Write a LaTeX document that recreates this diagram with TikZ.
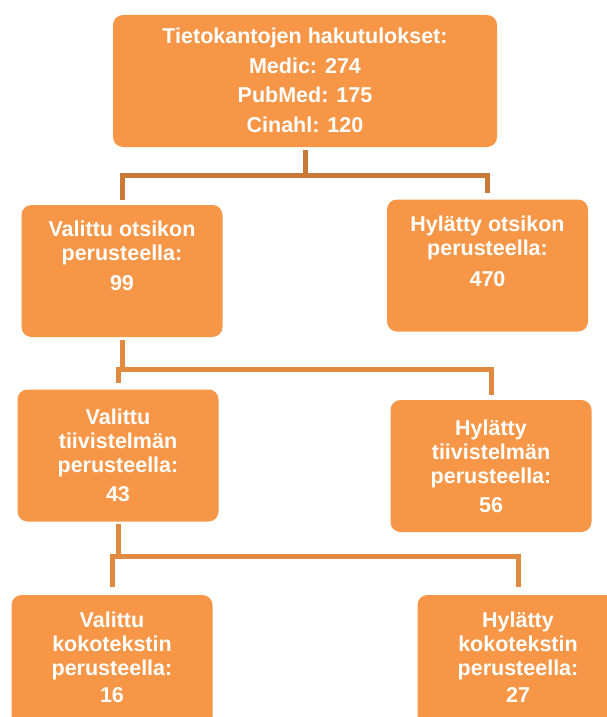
\documentclass[tikz,border=0pt]{standalone}
\usepackage{fontspec}
\setmainfont{Liberation Sans}
\usepackage{xcolor}
\usepackage{tikz}
\usetikzlibrary{positioning}
\definecolor{oranssi}{HTML}{F79646}
\definecolor{viivatumma}{HTML}{C87A38}
\definecolor{viivavalo}{HTML}{E28940}
\tikzset{
  laatikko/.style={fill=oranssi, rounded corners=10pt, inner sep=0pt,
    minimum width=201pt, minimum height=132pt},
  teksti/.style={text=white, align=center, inner sep=0pt,
    font=\bfseries\fontsize{21.5}{24}\selectfont},
  viiva/.style={line width=5pt, draw=viivavalo},
}

\begin{document}
\begin{tikzpicture}[x=1pt, y=-1pt]
        \useasboundingbox (0,0) rectangle (607,717);

        % Laatikot
        \node[laatikko, minimum width=384pt] (haku) at (305,81) {};
        \node[laatikko] (valotsikko) at (122,271) {};
        \node[laatikko] (hylotsikko) at (487.5,265.5) {};
        \node[laatikko] (valtiivis) at (118,455.5) {};
        \node[laatikko] (hyltiivis) at (491,466) {};
        \node[laatikko] (valkoko) at (112,661) {};
        \node[laatikko] (hylkoko) at (518,661) {};

        % Tekstit
        \node[teksti, below=13pt of haku.north] (hakuteksti)
          {Tietokantojen hakutulokset:\\[6pt] Medic: 274\\[5pt] PubMed: 175\\[6pt] Cinahl: 120};
        \node[teksti, below=16pt of valotsikko.north] (valotsikkoteksti)
          {Valittu otsikon\\ perusteella:\\[6pt] 99};
        \node[teksti, below=16pt of hylotsikko.north] (hylotsikkoteksti)
          {Hylätty otsikon\\ perusteella:\\[7pt] 470};
        \node[teksti, below=19pt of valtiivis.north] (valtiivisteksti)
          {Valittu\\ tiivistelmän\\ perusteella:\\[5pt] 43};
        \node[teksti, below=20pt of hyltiivis.north] (hyltiivisteksti)
          {Hylätty\\ tiivistelmän\\ perusteella:\\[5pt] 56};
        \node[teksti, below=17pt of valkoko.north] (valkokoteksti)
          {Valittu\\ kokotekstin\\ perusteella:\\[3pt] 16};
        \node[teksti, below=17pt of hylkoko.north] (hylkokoteksti)
          {Hylätty\\ kokotekstin\\ perusteella:\\[3pt] 27};

        % Yhteydet
        \draw[viiva, draw=viivatumma, shorten <=3pt] (haku.south) -- ++(0,28) coordinate (haara1);
        \draw[viiva, draw=viivatumma, shorten >=5pt] (haara1) -| (valotsikko.north);
        \draw[viiva, draw=viivatumma, shorten >=6pt] (haara1) -| (hylotsikko.north);

        \draw[viiva, shorten <=3pt] (valotsikko.south) -- ++(0,32) coordinate (haara2);
        \draw[viiva, shorten >=6pt] (haara2) -| (valtiivis.north);
        \draw[viiva, shorten >=5pt] (haara2) -| (hyltiivis.north);

        \draw[viiva, shorten <=2pt] (valtiivis.south) -- ++(0,35) coordinate (haara3);
        \draw[viiva, shorten >=8pt] (haara3) -| (valkoko.north);
        \draw[viiva, shorten >=8pt] (haara3) -| (hylkoko.north);
\end{tikzpicture}
\end{document}
